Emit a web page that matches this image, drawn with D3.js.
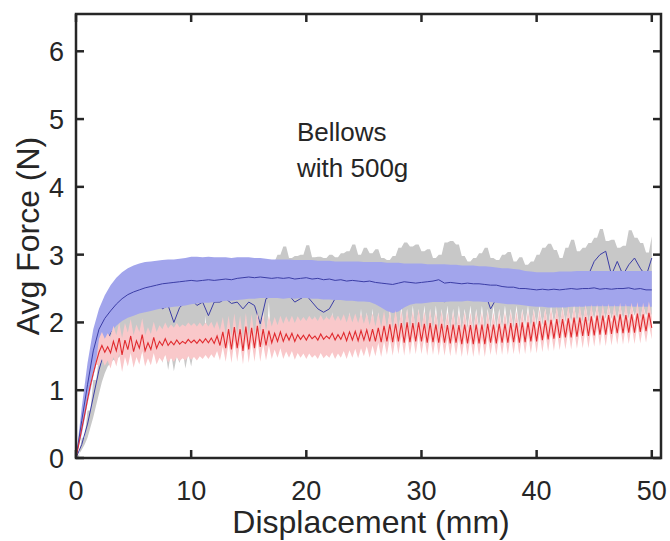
<!DOCTYPE html>
<html>
<head>
<meta charset="utf-8">
<script src="https://cdn.jsdelivr.net/npm/d3@7"></script>
<style>
  body { margin: 0; background: #fff; }
  svg text { font-family: "Liberation Sans", Arial, sans-serif; fill: #262626; }
</style>
</head>
<body>
<div id="chart"></div>
<script>
// sample spacing (mm) of the traces
const fineStep = 0.25;   // red trace
const coarseStep = 0.5;  // blue and gray traces

// red trace (mean), one value per 0.25 mm, 0..50 mm
const redMean = [
  0, 0.21, 0.43, 0.64, 0.86, 1.07, 1.25, 1.41, 1.56, 1.66,
  1.56, 1.64, 1.55, 1.72, 1.58, 1.77, 1.52, 1.74, 1.6, 1.8,
  1.57, 1.73, 1.62, 1.82, 1.58, 1.7, 1.6, 1.78, 1.62, 1.72,
  1.66, 1.76, 1.66, 1.72, 1.67, 1.74, 1.68, 1.72, 1.69, 1.75,
  1.7, 1.74, 1.69, 1.75, 1.7, 1.76, 1.7, 1.77, 1.69, 1.8,
  1.66, 1.86, 1.62, 1.9, 1.6, 1.93, 1.62, 1.9, 1.58, 1.94,
  1.6, 1.92, 1.62, 1.95, 1.64, 1.9, 1.66, 1.88, 1.7, 1.84,
  1.72, 1.86, 1.72, 1.83, 1.74, 1.84, 1.72, 1.82, 1.75, 1.81,
  1.74, 1.82, 1.76, 1.8, 1.74, 1.83, 1.75, 1.8, 1.76, 1.84,
  1.74, 1.82, 1.75, 1.85, 1.73, 1.86, 1.74, 1.87, 1.73, 1.88,
  1.74, 1.89, 1.72, 1.9, 1.72, 1.92, 1.71, 1.95, 1.72, 1.97,
  1.71, 1.98, 1.72, 1.99, 1.7, 2.0, 1.71, 1.99, 1.72, 2.0,
  1.72, 1.98, 1.7, 1.99, 1.71, 1.97, 1.7, 1.98, 1.7, 1.96,
  1.69, 1.97, 1.7, 1.96, 1.68, 1.97, 1.69, 1.96, 1.68, 1.97,
  1.69, 1.97, 1.68, 1.98, 1.7, 1.97, 1.69, 1.98, 1.7, 1.98,
  1.7, 1.99, 1.71, 1.99, 1.7, 2.0, 1.71, 2.0, 1.72, 2.01,
  1.72, 2.02, 1.74, 2.03, 1.75, 2.04, 1.76, 2.05, 1.77, 2.05,
  1.78, 2.06, 1.78, 2.07, 1.79, 2.07, 1.8, 2.08, 1.8, 2.09,
  1.81, 2.1, 1.82, 2.1, 1.82, 2.11, 1.83, 2.1, 1.84, 2.12,
  1.84, 2.11, 1.85, 2.12, 1.85, 2.13, 1.86, 2.12, 1.87, 2.14,
  1.92
];
// red trace spread, one value per mm (0..50)
const redSd = [
  0, 0.03, 0.2, 0.23, 0.25, 0.24, 0.23, 0.24, 0.25, 0.25,
  0.25, 0.24, 0.22, 0.2, 0.2, 0.2, 0.22, 0.24, 0.26, 0.27,
  0.28, 0.28, 0.28, 0.27, 0.26, 0.24, 0.22, 0.2, 0.19, 0.19,
  0.19, 0.19, 0.19, 0.19, 0.19, 0.19, 0.18, 0.18, 0.18, 0.18,
  0.18, 0.18, 0.18, 0.18, 0.18, 0.17, 0.17, 0.17, 0.17, 0.17,
  0.17
];

// blue trace, one value per 0.5 mm
const blueMean = [
  0, 0.55, 1.08, 1.58, 1.9, 2.06, 2.17, 2.27, 2.35, 2.41,
  2.45, 2.48, 2.51, 2.53, 2.55, 2.57, 2.58, 2.59, 2.6, 2.61,
  2.62, 2.61, 2.62, 2.63, 2.62, 2.63, 2.64, 2.63, 2.65, 2.66,
  2.67, 2.66, 2.67, 2.66, 2.65, 2.66, 2.65, 2.66, 2.64, 2.65,
  2.66, 2.64, 2.65, 2.63, 2.64, 2.62, 2.63, 2.61, 2.62, 2.61,
  2.6, 2.61, 2.59, 2.58, 2.57, 2.56, 2.58, 2.6, 2.59, 2.58,
  2.59, 2.6, 2.61, 2.63, 2.58, 2.59, 2.58, 2.57, 2.58, 2.57,
  2.57, 2.56, 2.55, 2.55, 2.53, 2.52, 2.52, 2.5, 2.5, 2.49,
  2.48, 2.49, 2.48, 2.49, 2.48, 2.49, 2.5, 2.49, 2.5, 2.5,
  2.51, 2.49, 2.5, 2.49, 2.5, 2.5, 2.51, 2.49, 2.5, 2.48,
  2.48
];
const blueLo = [
  0, 0.35, 0.8, 1.2, 1.55, 1.72, 1.85, 1.95, 2.02, 2.07,
  2.1, 2.13, 2.15, 2.17, 2.19, 2.21, 2.22, 2.23, 2.24, 2.25,
  2.27, 2.28, 2.29, 2.29, 2.3, 2.31, 2.32, 2.32, 2.33, 2.34,
  2.35, 2.35, 2.36, 2.36, 2.36, 2.36, 2.35, 2.36, 2.35, 2.36,
  2.36, 2.35, 2.35, 2.34, 2.34, 2.33, 2.33, 2.32, 2.32, 2.31,
  2.31, 2.3, 2.27, 2.22, 2.17, 2.14, 2.16, 2.22, 2.26, 2.28,
  2.28, 2.29, 2.3, 2.3, 2.3, 2.31, 2.31, 2.31, 2.32, 2.31,
  2.31, 2.3, 2.3, 2.29, 2.28, 2.27, 2.27, 2.26, 2.25, 2.24,
  2.23, 2.23, 2.22, 2.22, 2.22, 2.22, 2.23, 2.23, 2.23, 2.24,
  2.24, 2.24, 2.24, 2.24, 2.24, 2.24, 2.24, 2.23, 2.23, 2.23,
  2.23
];
const blueHi = [
  0, 0.75, 1.4, 1.9, 2.2, 2.4, 2.55, 2.66, 2.74, 2.8,
  2.84, 2.87, 2.89, 2.9, 2.91, 2.92, 2.93, 2.93, 2.94, 2.95,
  2.97, 2.97, 2.96, 2.97, 2.96, 2.96, 2.96, 2.95, 2.96, 2.96,
  2.96, 2.95, 2.95, 2.94, 2.93, 2.93, 2.93, 2.93, 2.92, 2.92,
  2.92, 2.92, 2.91, 2.91, 2.91, 2.9, 2.9, 2.9, 2.9, 2.9,
  2.89, 2.89, 2.89, 2.89, 2.88, 2.88, 2.88, 2.87, 2.87, 2.87,
  2.87, 2.86, 2.86, 2.86, 2.86, 2.85, 2.85, 2.84, 2.84, 2.84,
  2.83, 2.83, 2.82, 2.81, 2.8, 2.8, 2.79, 2.78, 2.76, 2.75,
  2.74, 2.74, 2.74, 2.74, 2.75, 2.75, 2.75, 2.76, 2.76, 2.76,
  2.76, 2.76, 2.76, 2.76, 2.76, 2.76, 2.76, 2.76, 2.76, 2.76,
  2.76
];

// gray trace, mean and upper edge per 0.5 mm, lower edge per 0.25 mm
const grayMean = [
  0, 0.2, 0.5, 0.9, 1.3, 1.6, 1.85, 2.05, 2.2, 2.3,
  2.35, 2.4, 2.42, 2.45, 2.4, 2.2, 2.25, 2.0, 2.22, 2.3,
  2.35, 2.25, 2.3, 2.1, 2.3, 2.3, 2.35, 2.28, 2.3, 2.2,
  2.3, 2.25, 1.98, 2.35, 2.4, 2.45, 2.5, 2.4, 2.3, 2.35,
  2.4, 2.3, 2.2, 2.15, 2.2, 2.35, 2.45, 2.5, 2.55, 2.5,
  2.6, 2.55, 2.5, 2.45, 2.5, 2.45, 2.5, 2.55, 2.5, 2.45,
  2.4, 2.35, 2.4, 2.5, 2.3, 2.45, 2.55, 2.5, 2.45, 2.5,
  2.55, 2.45, 2.2, 2.35, 2.45, 2.5, 2.55, 2.5, 2.45, 2.5,
  2.55, 2.5, 2.45, 2.5, 2.55, 2.6, 2.55, 2.6, 2.55, 2.7,
  2.9, 3.0, 3.05, 2.7, 2.9, 2.7, 2.85, 2.95, 2.8, 2.68,
  2.95
];
const grayHi = [
  0, 0.3, 0.7, 1.15, 1.5, 1.8, 2.0, 2.15, 2.3, 2.4,
  2.5, 2.55, 2.6, 2.65, 2.7, 2.72, 2.75, 2.77, 2.78, 2.8,
  2.8, 2.82, 2.82, 2.85, 2.84, 2.86, 2.85, 2.88, 2.86, 2.88,
  2.88, 2.9, 2.88, 2.92, 2.9, 3.0, 3.12, 2.95, 2.98, 3.0,
  3.14, 2.96, 2.97, 2.95, 3.0, 2.96, 3.02, 3.05, 3.15, 3.0,
  3.1, 3.02, 3.08, 2.95, 2.92, 2.98, 3.1, 3.18, 3.12, 3.15,
  3.05, 3.08, 2.95, 3.0, 3.18, 3.2, 3.15, 2.98, 2.9, 2.95,
  3.02, 3.1, 2.95, 2.92, 3.0, 3.04, 2.9, 2.96, 2.85, 2.9,
  3.0, 3.1, 3.16, 3.07, 2.95, 3.1, 3.22, 3.05, 3.1, 3.17,
  3.25, 3.38, 3.2, 3.22, 3.1, 3.13, 3.36, 3.25, 3.17, 3.03,
  3.27
];
const grayLo = [
  0, 0.05, 0.12, 0.2, 0.3, 0.45, 0.6, 0.78, 0.95, 1.12,
  1.25, 1.35, 1.4, 1.45, 1.42, 1.5, 1.45, 1.6, 1.5, 1.85,
  1.45, 1.75, 1.42, 1.6, 1.45, 1.55, 1.4, 1.65, 1.45, 1.7,
  1.4, 1.6, 1.3, 1.55, 1.28, 1.5, 1.4, 1.6, 1.32, 1.55,
  1.35, 1.6, 1.45, 1.9, 1.5, 2.1, 1.5, 1.7, 1.5, 1.8,
  1.5, 1.75, 1.5, 1.8, 1.55, 1.85, 1.5, 1.75, 1.55, 1.9,
  1.5, 1.8, 1.55, 1.95, 1.55, 2.2, 1.6, 2.3, 1.6, 1.9,
  1.6, 2.0, 1.65, 1.9, 1.6, 2.05, 1.65, 1.95, 1.6, 2.0,
  1.65, 2.05, 1.6, 2.1, 1.65, 2.0, 1.7, 2.1, 1.65, 2.15,
  1.7, 2.1, 1.65, 2.05, 1.7, 2.15, 1.7, 2.1, 1.7, 2.2,
  1.7, 2.15, 1.75, 2.2, 1.7, 2.15, 1.75, 2.1, 1.75, 2.2,
  1.75, 2.15, 1.8, 2.25, 1.8, 2.2, 1.8, 2.25, 1.8, 2.2,
  1.8, 2.25, 1.8, 2.2, 1.85, 2.25, 1.8, 2.2, 1.85, 2.25,
  1.85, 2.2, 1.85, 2.25, 1.85, 2.2, 1.9, 2.25, 1.85, 2.2,
  1.9, 2.25, 1.85, 2.2, 1.9, 2.25, 1.9, 2.2, 1.9, 2.25,
  1.9, 2.2, 1.9, 2.25, 1.9, 2.2, 1.95, 2.25, 1.9, 2.2,
  1.95, 2.25, 1.95, 2.2, 1.95, 2.25, 2.0, 2.2, 1.95, 2.25,
  2.0, 2.2, 2.0, 2.25, 2.0, 2.2, 2.0, 2.25, 2.0, 2.2,
  2.05, 2.25, 2.0, 2.2, 2.05, 2.25, 2.05, 2.2, 2.05, 2.25,
  2.05, 2.2, 2.05, 2.25, 2.1, 2.2, 2.05, 2.25, 2.1, 2.2,
  2.1
];

const xTicks = [0, 10, 20, 30, 40, 50];
const yTicks = [0, 1, 2, 3, 4, 5, 6];
const xLabel = "Displacement (mm)";
const yLabel = "Avg Force (N)";
const note = ["Bellows", "with 500g"];

const width = 670, height = 541;
const box = { left: 76, right: 661, top: 14, bottom: 458 };
const tickLen = 8;
const axisColor = "#262626";

const x = d3.scaleLinear().domain([0, 50.8]).range([box.left, box.right]);
const y = d3.scaleLinear().domain([0, 6.55]).range([box.bottom, box.top]);

const svg = d3.select("#chart").append("svg")
    .attr("width", width)
    .attr("height", height);

svg.append("defs").append("clipPath").attr("id", "plotClip")
  .append("rect")
    .attr("x", box.left).attr("y", box.top)
    .attr("width", box.right - box.left).attr("height", box.bottom - box.top);

const plot = svg.append("g").attr("clip-path", "url(#plotClip)");

// gray band: lower edge on the fine grid, upper edge taken at the coarse sample it falls on
const grayRows = grayLo.map((lo, i) => ({
  x: i * fineStep,
  lo: lo,
  hi: grayHi[Math.floor(i * fineStep / coarseStep)]
}));
plot.append("path")
    .attr("d", d3.area().x(d => x(d.x)).y0(d => y(d.lo)).y1(d => y(d.hi))(grayRows))
    .attr("fill", "#c8c8c8");

const coarseLine = d3.line()
    .x((d, i) => x(i * coarseStep))
    .y(d => y(d));

plot.append("path")
    .attr("d", coarseLine(grayMean))
    .attr("fill", "none")
    .attr("stroke", "#3b3da6")
    .attr("stroke-width", 1);

// blue band + mean
const blueArea = d3.area()
    .x((d, i) => x(i * coarseStep))
    .y0((d, i) => y(blueLo[i]))
    .y1((d, i) => y(blueHi[i]));

plot.append("path")
    .attr("d", blueArea(blueMean))
    .attr("fill", "#a2a5ec");

plot.append("path")
    .attr("d", coarseLine(blueMean))
    .attr("fill", "none")
    .attr("stroke", "#3b3da6")
    .attr("stroke-width", 1);

// red band + mean
const redArea = d3.area()
    .x((d, i) => x(i * fineStep))
    .y0((d, i) => y(d - redSd[Math.floor(i * fineStep)]))
    .y1((d, i) => y(d + redSd[Math.floor(i * fineStep)]));

plot.append("path")
    .attr("d", redArea(redMean))
    .attr("fill", "#f9c8ca");

plot.append("path")
    .attr("d", d3.line().x((d, i) => x(i * fineStep)).y(d => y(d))(redMean))
    .attr("fill", "none")
    .attr("stroke", "#e02a2e")
    .attr("stroke-width", 1.1);

// frame
svg.append("rect")
    .attr("x", box.left).attr("y", box.top)
    .attr("width", box.right - box.left).attr("height", box.bottom - box.top)
    .attr("fill", "none")
    .attr("stroke", axisColor)
    .attr("stroke-width", 2.5);

// ticks, inward on all four sides
const ticks = svg.append("g").attr("stroke", axisColor).attr("stroke-width", 2.5);
xTicks.forEach(t => {
  ticks.append("line").attr("x1", x(t)).attr("x2", x(t)).attr("y1", box.bottom).attr("y2", box.bottom - tickLen);
  ticks.append("line").attr("x1", x(t)).attr("x2", x(t)).attr("y1", box.top).attr("y2", box.top + tickLen);
});
yTicks.forEach(t => {
  ticks.append("line").attr("x1", box.left).attr("x2", box.left + tickLen).attr("y1", y(t)).attr("y2", y(t));
  ticks.append("line").attr("x1", box.right).attr("x2", box.right - tickLen).attr("y1", y(t)).attr("y2", y(t));
});

// tick labels
svg.append("g").selectAll("text")
  .data(xTicks)
  .join("text")
    .attr("x", d => x(d))
    .attr("y", 500)
    .attr("text-anchor", "middle")
    .style("font-size", "27px")
    .text(d => d);

svg.append("g").selectAll("text")
  .data(yTicks)
  .join("text")
    .attr("x", 64)
    .attr("y", d => y(d) + 10)
    .attr("text-anchor", "end")
    .style("font-size", "27px")
    .text(d => d);

// axis titles
svg.append("text")
    .attr("x", 371)
    .attr("y", 533)
    .attr("text-anchor", "middle")
    .style("font-size", "32px")
    .text(xLabel);

svg.append("text")
    .attr("transform", `translate(39,${(box.top + box.bottom) / 2}) rotate(-90)`)
    .attr("text-anchor", "middle")
    .style("font-size", "32px")
    .text(yLabel);

// annotation
svg.append("g").selectAll("text")
  .data(note)
  .join("text")
    .attr("x", 297)
    .attr("y", (d, i) => 141 + i * 36)
    .style("font-size", "26px")
    .text(d => d);
</script>
</body>
</html>
